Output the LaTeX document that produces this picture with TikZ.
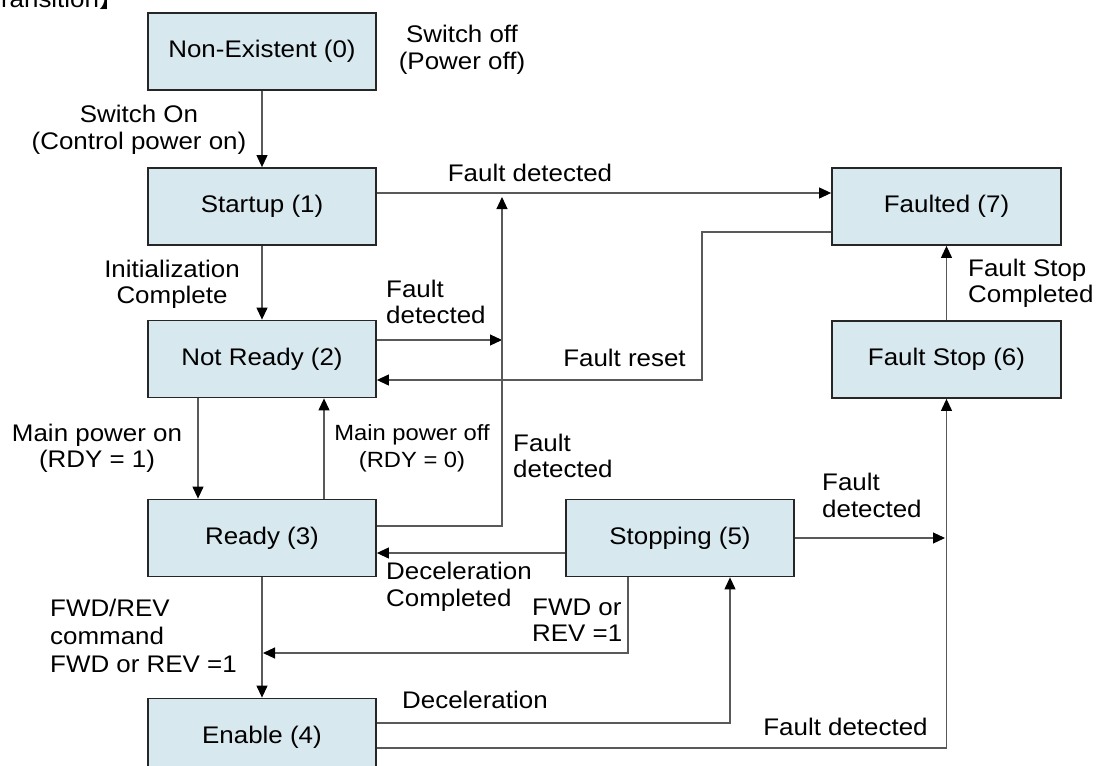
\documentclass[tikz,border=0pt]{standalone}
\usepackage{fontspec}
\setmainfont{Liberation Sans}[FakeStretch=1.08]
\newfontfamily\cjk{Noto Sans CJK SC}
\usetikzlibrary{arrows.meta}
\definecolor{boxblue}{RGB}{215,232,239}
\newcommand\lblfont{\fontsize{24}{26.5}\selectfont}
\newcommand\smlfont{\fontsize{22}{26.5}\selectfont}
\begin{document}
\begin{tikzpicture}[x=1pt,y=-1pt,
  state/.style={draw=black!85, line width=1.8pt, fill=boxblue, minimum width=228pt,
    minimum height=77pt, inner sep=0pt, font=\lblfont},
  conn/.style={draw=black!65, line width=1.1pt},
  arr/.style={conn, -{Triangle[length=12pt,width=11pt,black]}},
  lbl/.style={font=\lblfont, inner sep=0pt, align=left},
  lblc/.style={font=\lblfont, inner sep=0pt, align=center}]
\useasboundingbox (0,0) rectangle (1096,766);
\clip (0,0) rectangle (1096,766);
\fill[white] (0,0) rectangle (1096,766);

% partial title
\node[font=\lblfont, inner sep=0pt, anchor=base west] (title) at (-14,7) {Transition{\cjk 】}};

% states
\node[state] (n0) at (262,51.5) {Non-Existent (0)};
\node[state] (n1) at (262,206.5) {Startup (1)};
\node[state] (n2) at (262,359) {Not Ready (2)};
\node[state] (n3) at (262,538) {Ready (3)};
\node[state] (n4) at (262,737) {Enable (4)};
\node[state] (n5) at (680,538) {Stopping (5)};
\node[state, minimum width=229pt] (n7) at (946.5,206.5) {Faulted (7)};
\node[state, minimum width=229pt] (n6) at (946.5,359.5) {Fault Stop (6)};

% free ends / junctions
\coordinate (rsb) at (702,380);
\coordinate (fdj) at (502,340);
\coordinate (fdtop) at (502,197);
\coordinate (fwd) at (263,653);
\coordinate (fs) at (945,538);

% connectors
\draw[arr] (n0) -- (n1);
\draw[arr] (n1) -- (n2);
\draw[arr] (n3) -- (n4);
\draw[arr] ([yshift=13.5pt]n1.east) -- ([yshift=13.5pt]n7.west);
\draw[arr] ([yshift=-25.5pt]n7.west) -| (rsb) -- ([yshift=-21pt]n2.east);
\draw[arr] ([yshift=19pt]n2.east) -- (fdj);
\draw[arr] ([yshift=12pt]n3.east) -| (fdtop);
\draw[arr] ([xshift=-64pt]n2.south) -- ([xshift=-64pt]n3.north);
\draw[arr] ([xshift=62pt]n3.north) -- ([xshift=62pt]n2.south);
\draw[arr] ([yshift=-15pt]n5.west) -- ([yshift=-15pt]n3.east);
\draw[arr] ([xshift=-52pt]n5.south) |- (fwd);
\draw[arr] ([yshift=14pt]n4.east) -| ([xshift=50pt]n5.south);
\draw[arr] (n5.east) -- (fs);
\draw[arr] ([yshift=-11pt]n4.east) -| (n6.south);
\draw[arr] (n6) -- (n7);

% labels
\node[lblc] (l1) at (139,130) {Switch On\\(Control power on)};
\node[lblc] (l2) at (462,50) {Switch off\\(Power off)};
\node[lblc] (l3) at (530,173) {Fault detected};
\node[lblc] (l4) at (172,284.5) {Initialization\\Complete};
\node[lbl, anchor=west] (l5) at (386,302) {Fault\\detected};
\node[lblc] (l6) at (624.5,358) {Fault reset};
\node[lblc] (l7) at (97,448.5) {Main power on\\(RDY = 1)};
\node[lblc, font=\smlfont] (l8) at (412,448.5) {Main power off\\(RDY = 0)};
\node[lbl, anchor=west] (l9) at (513,456) {Fault\\detected};
\node[lbl, anchor=west] (l10) at (386,587) {Deceleration\\Completed};
\node[lbl, anchor=west, font=\fontsize{24}{28}\selectfont] (l11) at (50,636) {FWD/REV\\command\\FWD or REV =1};
\node[lbl, anchor=west] (l12) at (532,620) {FWD or\\REV =1};
\node[lbl, anchor=west] (l13) at (402,700) {Deceleration};
\node[lbl, anchor=west] (l14) at (822,495.5) {Fault\\detected};
\node[lblc] (l15) at (845.5,727) {Fault detected};
\node[lbl, anchor=west] (l16) at (968,283.5) {Fault Stop\\Completed};
\end{tikzpicture}
\end{document}
